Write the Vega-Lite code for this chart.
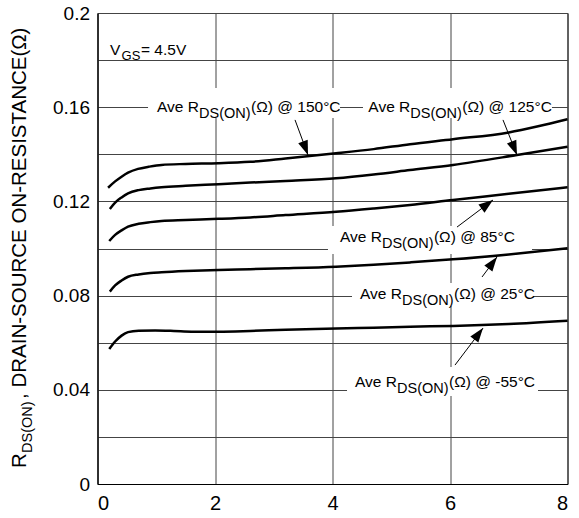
{
  "$schema": "https://vega.github.io/schema/vega-lite/v6.json",
  "width": 470,
  "height": 471,
  "autosize": {"type": "none"},
  "padding": {"left": 97.5, "top": 13, "right": 11.5, "bottom": 34},
  "background": "white",
  "config": {
    "font": "Liberation Sans",
    "view": {"stroke": "#000", "strokeWidth": 1},
    "axis": {"grid": true, "gridColor": "#444", "gridWidth": 1, "domainColor": "#000", "ticks": false, "labelFont": "Liberation Sans", "labelColor": "#000", "title": null},
    "text": {"font": "Liberation Sans", "color": "#000"}
  },
  "datasets": {
    "one": [{"k": 1}],
    "curves": [
      {"temp": "150", "x": 0.18, "r": 0.1258}, {"temp": "150", "x": 0.3, "r": 0.1285}, {"temp": "150", "x": 0.41, "r": 0.1305}, {"temp": "150", "x": 0.52, "r": 0.1322}, {"temp": "150", "x": 0.69, "r": 0.1338}, {"temp": "150", "x": 0.87, "r": 0.1347}, {"temp": "150", "x": 1.09, "r": 0.1355}, {"temp": "150", "x": 1.5, "r": 0.1359}, {"temp": "150", "x": 2.06, "r": 0.1362}, {"temp": "150", "x": 2.6, "r": 0.1368}, {"temp": "150", "x": 3.2, "r": 0.1382}, {"temp": "150", "x": 4.06, "r": 0.1404}, {"temp": "150", "x": 4.7, "r": 0.1422}, {"temp": "150", "x": 5.32, "r": 0.1443}, {"temp": "150", "x": 6.05, "r": 0.1464}, {"temp": "150", "x": 7.0, "r": 0.1493}, {"temp": "150", "x": 7.5, "r": 0.1519}, {"temp": "150", "x": 8.0, "r": 0.1549},
      {"temp": "125", "x": 0.21, "r": 0.1168}, {"temp": "125", "x": 0.3, "r": 0.1195}, {"temp": "125", "x": 0.41, "r": 0.1217}, {"temp": "125", "x": 0.52, "r": 0.1234}, {"temp": "125", "x": 0.7, "r": 0.1248}, {"temp": "125", "x": 0.9, "r": 0.1255}, {"temp": "125", "x": 1.09, "r": 0.126}, {"temp": "125", "x": 1.5, "r": 0.1266}, {"temp": "125", "x": 2.06, "r": 0.1273}, {"temp": "125", "x": 2.6, "r": 0.128}, {"temp": "125", "x": 3.2, "r": 0.1287}, {"temp": "125", "x": 4.06, "r": 0.1298}, {"temp": "125", "x": 4.7, "r": 0.1314}, {"temp": "125", "x": 5.32, "r": 0.1333}, {"temp": "125", "x": 6.05, "r": 0.1355}, {"temp": "125", "x": 7.14, "r": 0.1397}, {"temp": "125", "x": 8.0, "r": 0.1432},
      {"temp": "85", "x": 0.2, "r": 0.1032}, {"temp": "85", "x": 0.3, "r": 0.1058}, {"temp": "85", "x": 0.41, "r": 0.1077}, {"temp": "85", "x": 0.52, "r": 0.1093}, {"temp": "85", "x": 0.7, "r": 0.1105}, {"temp": "85", "x": 0.9, "r": 0.1112}, {"temp": "85", "x": 1.09, "r": 0.1117}, {"temp": "85", "x": 1.5, "r": 0.1121}, {"temp": "85", "x": 2.06, "r": 0.1126}, {"temp": "85", "x": 2.6, "r": 0.1132}, {"temp": "85", "x": 3.2, "r": 0.1142}, {"temp": "85", "x": 4.06, "r": 0.1156}, {"temp": "85", "x": 4.7, "r": 0.117}, {"temp": "85", "x": 5.32, "r": 0.1185}, {"temp": "85", "x": 6.05, "r": 0.1206}, {"temp": "85", "x": 7.0, "r": 0.1232}, {"temp": "85", "x": 8.0, "r": 0.126},
      {"temp": "25", "x": 0.21, "r": 0.0817}, {"temp": "25", "x": 0.3, "r": 0.0843}, {"temp": "25", "x": 0.41, "r": 0.0864}, {"temp": "25", "x": 0.52, "r": 0.088}, {"temp": "25", "x": 0.7, "r": 0.089}, {"temp": "25", "x": 0.9, "r": 0.0896}, {"temp": "25", "x": 1.09, "r": 0.0899}, {"temp": "25", "x": 1.5, "r": 0.0904}, {"temp": "25", "x": 2.06, "r": 0.0909}, {"temp": "25", "x": 2.6, "r": 0.0912}, {"temp": "25", "x": 3.2, "r": 0.0916}, {"temp": "25", "x": 4.06, "r": 0.0923}, {"temp": "25", "x": 4.7, "r": 0.0931}, {"temp": "25", "x": 5.32, "r": 0.0941}, {"temp": "25", "x": 6.05, "r": 0.0954}, {"temp": "25", "x": 7.0, "r": 0.0975}, {"temp": "25", "x": 8.0, "r": 0.1001},
      {"temp": "-55", "x": 0.2, "r": 0.0573}, {"temp": "-55", "x": 0.3, "r": 0.0605}, {"temp": "-55", "x": 0.41, "r": 0.063}, {"temp": "-55", "x": 0.52, "r": 0.0645}, {"temp": "-55", "x": 0.7, "r": 0.0651}, {"temp": "-55", "x": 0.98, "r": 0.0652}, {"temp": "-55", "x": 1.3, "r": 0.065}, {"temp": "-55", "x": 1.6, "r": 0.0647}, {"temp": "-55", "x": 2.06, "r": 0.0647}, {"temp": "-55", "x": 2.6, "r": 0.065}, {"temp": "-55", "x": 3.2, "r": 0.0655}, {"temp": "-55", "x": 4.06, "r": 0.066}, {"temp": "-55", "x": 4.7, "r": 0.0664}, {"temp": "-55", "x": 5.32, "r": 0.0668}, {"temp": "-55", "x": 6.05, "r": 0.0671}, {"temp": "-55", "x": 7.0, "r": 0.0679}, {"temp": "-55", "x": 8.0, "r": 0.0693}
    ],
    "boxes": [
      {"temp": "150", "xa": 0.86, "xb": 4.128, "ya": 0.1554, "yb": 0.1682},
      {"temp": "125", "xa": 4.519, "xb": 7.736, "ya": 0.1554, "yb": 0.1682},
      {"temp": "85", "xa": 3.923, "xb": 7.396, "ya": 0.0977, "yb": 0.1096},
      {"temp": "25", "xa": 4.332, "xb": 7.413, "ya": 0.0756, "yb": 0.0854},
      {"temp": "-55", "xa": 4.247, "xb": 7.498, "ya": 0.0374, "yb": 0.0497}
    ],
    "arrows": [
      {"temp": "150", "xs": 3.362, "ys": 0.1546, "xt": 3.583, "yt": 0.1397, "angle": 159.6},
      {"temp": "125", "xs": 6.902, "ys": 0.1546, "xt": 7.14, "yt": 0.1397, "angle": 158.2},
      {"temp": "85", "xs": 6.119, "ys": 0.1091, "xt": 6.732, "yt": 0.1206, "angle": 53.1},
      {"temp": "25", "xs": 6.545, "ys": 0.0879, "xt": 6.8, "yt": 0.0964, "angle": 36.9},
      {"temp": "-55", "xs": 6.085, "ys": 0.0505, "xt": 6.562, "yt": 0.0662, "angle": 37.1}
    ],
    "labels": [
      {"temp": "150", "x": 1.013, "y": 0.158, "suffix": "(Ω) @ 150°C"},
      {"temp": "125", "x": 4.61, "y": 0.158, "suffix": "(Ω) @ 125°C"},
      {"temp": "85", "x": 4.127, "y": 0.1028, "suffix": "(Ω) @ 85°C"},
      {"temp": "25", "x": 4.468, "y": 0.0786, "suffix": "(Ω) @ 25°C"},
      {"temp": "-55", "x": 4.383, "y": 0.0412, "suffix": "(Ω) @ -55°C"}
    ]
  },
  "layer": [
    {
      "data": {"name": "boxes"},
      "mark": {"type": "rect", "fill": "white", "stroke": null},
      "encoding": {
        "x": {"field": "xa", "type": "quantitative", "scale": {"domain": [0, 8], "nice": false}},
        "x2": {"field": "xb"},
        "y": {"field": "ya", "type": "quantitative", "scale": {"domain": [0, 0.2], "nice": false}},
        "y2": {"field": "yb"}
      }
    },
    {
      "data": {"name": "curves"},
      "mark": {"type": "line", "color": "#000", "strokeWidth": 2.5, "interpolate": "monotone"},
      "encoding": {
        "x": {"field": "x", "type": "quantitative", "scale": {"domain": [0, 8], "nice": false},
          "axis": {"values": [0, 2, 4, 6, 8], "format": "d", "labelFontSize": 20, "labelPadding": 9}},
        "y": {"field": "r", "type": "quantitative", "scale": {"domain": [0, 0.2], "nice": false},
          "axis": {"values": [0, 0.02, 0.04, 0.06, 0.08, 0.1, 0.12, 0.14, 0.16, 0.18, 0.2], "format": "~g", "labelExpr": "round(datum.value*100) % 4 == 0 ? datum.label : ''", "labelFontSize": 19, "labelPadding": 8}},
        "detail": {"field": "temp"}
      }
    },
    {
      "data": {"name": "arrows"},
      "mark": {"type": "rule", "color": "#000", "strokeWidth": 1},
      "encoding": {
        "x": {"field": "xs", "type": "quantitative"},
        "y": {"field": "ys", "type": "quantitative"},
        "x2": {"field": "xt"},
        "y2": {"field": "yt"}
      }
    },
    {
      "data": {"name": "arrows"},
      "mark": {"type": "point", "shape": "M0,0L0.42,1.2L-0.42,1.2Z", "filled": true, "color": "#000", "opacity": 1, "size": 576},
      "encoding": {
        "x": {"field": "xt", "type": "quantitative"},
        "y": {"field": "yt", "type": "quantitative"},
        "angle": {"field": "angle", "type": "quantitative", "scale": null}
      }
    },
    {
      "data": {"name": "labels"},
      "mark": {"type": "text", "text": "Ave R", "align": "left", "baseline": "alphabetic", "fontSize": 15.5},
      "encoding": {"x": {"field": "x", "type": "quantitative"}, "y": {"field": "y", "type": "quantitative"}}
    },
    {
      "data": {"name": "labels"},
      "mark": {"type": "text", "text": "DS(ON)", "align": "left", "baseline": "alphabetic", "fontSize": 14.5, "dx": 42, "dy": 6},
      "encoding": {"x": {"field": "x", "type": "quantitative"}, "y": {"field": "y", "type": "quantitative"}}
    },
    {
      "data": {"name": "labels"},
      "mark": {"type": "text", "align": "left", "baseline": "alphabetic", "fontSize": 15.5, "dx": 94},
      "encoding": {"x": {"field": "x", "type": "quantitative"}, "y": {"field": "y", "type": "quantitative"}, "text": {"field": "suffix"}}
    },
    {
      "data": {"name": "one"},
      "mark": {"type": "text", "text": "V", "align": "left", "baseline": "alphabetic", "fontSize": 15.5},
      "encoding": {"x": {"datum": 0.213}, "y": {"datum": 0.1822}}
    },
    {
      "data": {"name": "one"},
      "mark": {"type": "text", "text": "GS", "align": "left", "baseline": "alphabetic", "fontSize": 13, "dx": 11.5, "dy": 5},
      "encoding": {"x": {"datum": 0.213}, "y": {"datum": 0.1822}}
    },
    {
      "data": {"name": "one"},
      "mark": {"type": "text", "text": "= 4.5V", "align": "left", "baseline": "alphabetic", "fontSize": 15.5, "dx": 31},
      "encoding": {"x": {"datum": 0.213}, "y": {"datum": 0.1822}}
    },
    {
      "data": {"name": "one"},
      "mark": {"type": "text", "text": "R", "align": "left", "baseline": "alphabetic", "fontSize": 20.5, "angle": 270},
      "encoding": {"x": {"datum": -1.2255}, "y": {"datum": 0.0068}}
    },
    {
      "data": {"name": "one"},
      "mark": {"type": "text", "text": "DS(ON)", "align": "left", "baseline": "alphabetic", "fontSize": 14.5, "angle": 270},
      "encoding": {"x": {"datum": -1.1234}, "y": {"datum": 0.01316}}
    },
    {
      "data": {"name": "one"},
      "mark": {"type": "text", "text": ", DRAIN-SOURCE ON-RESISTANCE(Ω)", "align": "left", "baseline": "alphabetic", "fontSize": 20.5, "angle": 270},
      "encoding": {"x": {"datum": -1.2255}, "y": {"datum": 0.0361}}
    }
  ]
}
